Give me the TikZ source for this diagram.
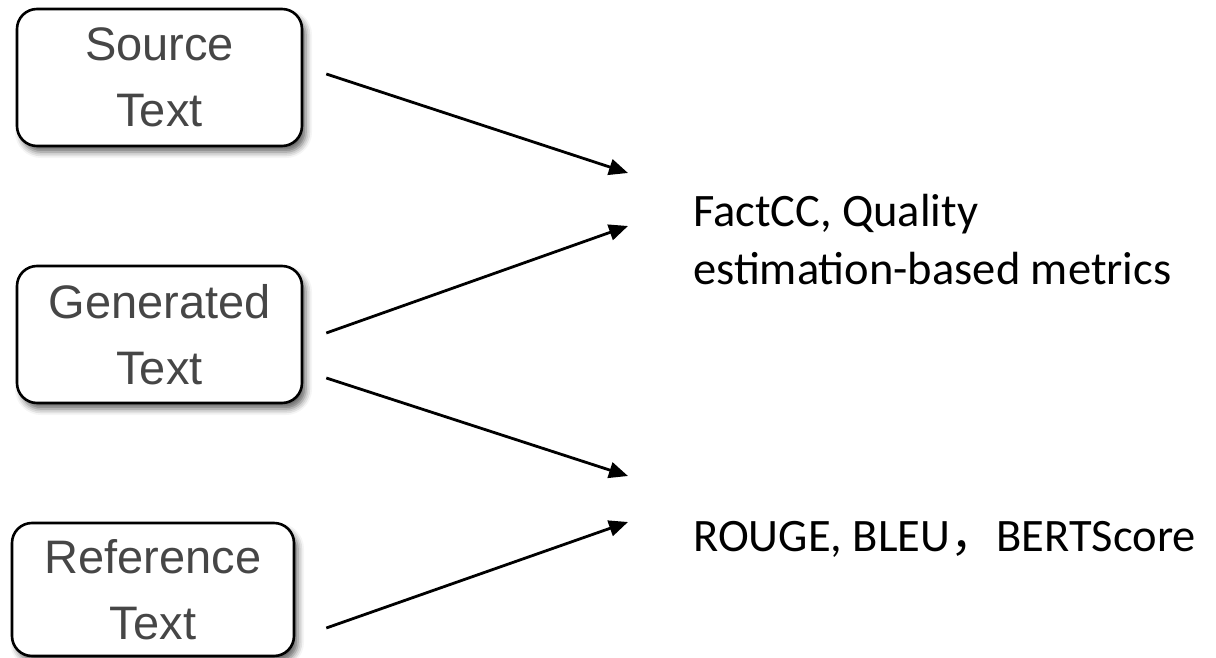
\documentclass[tikz,border=0pt]{standalone}
\usepackage{fontspec}
\setmainfont{Liberation Sans}
\newfontfamily\calib{Carlito}
\newfontfamily\cjk{Noto Sans CJK SC}
\usetikzlibrary{arrows.meta,shadows.blur}
\definecolor{boxtext}{RGB}{70,70,70}
\begin{document}
\begin{tikzpicture}[x=1pt,y=-1pt,
  textbox/.style={draw=black, line width=2.6pt, rounded corners=20pt,
    fill=white, minimum width=285pt, minimum height=137pt, inner sep=0pt,
    align=center, text=boxtext, font=\fontsize{47}{66}\selectfont,
    blur shadow={shadow xshift=4pt, shadow yshift=-6pt,
      shadow blur radius=6pt, shadow opacity=60}},
  metric/.style={anchor=north west, inner sep=0pt, align=left,
    font=\calib\fontsize{46.5}{58}\selectfont},
  link/.style={line width=2.8pt, -{Triangle[length=19pt,width=16pt]}}]
\useasboundingbox (0,0) rectangle (1216,658);

% input boxes
\node[textbox] (src) at (159.5,77.5) {Source\\Text};
\node[textbox] (gen) at (159.5,334.5) {Generated\\Text};
\node[textbox, minimum width=282pt, minimum height=133pt] (ref) at (153,589.5) {Reference\\Text};

% metric families
\node[metric] (fact) at (693,194) {FactCC, Quality\\estimation-based metrics};
\node[metric] (ngram) at (693,521) {ROUGE, BLEU{\cjk ，}BERTScore};

% arrow tips in front of the metric labels
\coordinate (t1) at (628,173);
\coordinate (t2) at (628,226);
\coordinate (t3) at (628,476);
\coordinate (t4) at (628,522);

\draw[link] ([xshift=23pt,yshift=3.5pt]src.east) -- (t1);
\draw[link] ([xshift=23pt,yshift=1.5pt]gen.east) -- (t2);
\draw[link] ([xshift=23pt,yshift=-43.5pt]gen.east) -- (t3);
\draw[link] ([xshift=31pt,yshift=-38.5pt]ref.east) -- (t4);
\end{tikzpicture}
\end{document}
